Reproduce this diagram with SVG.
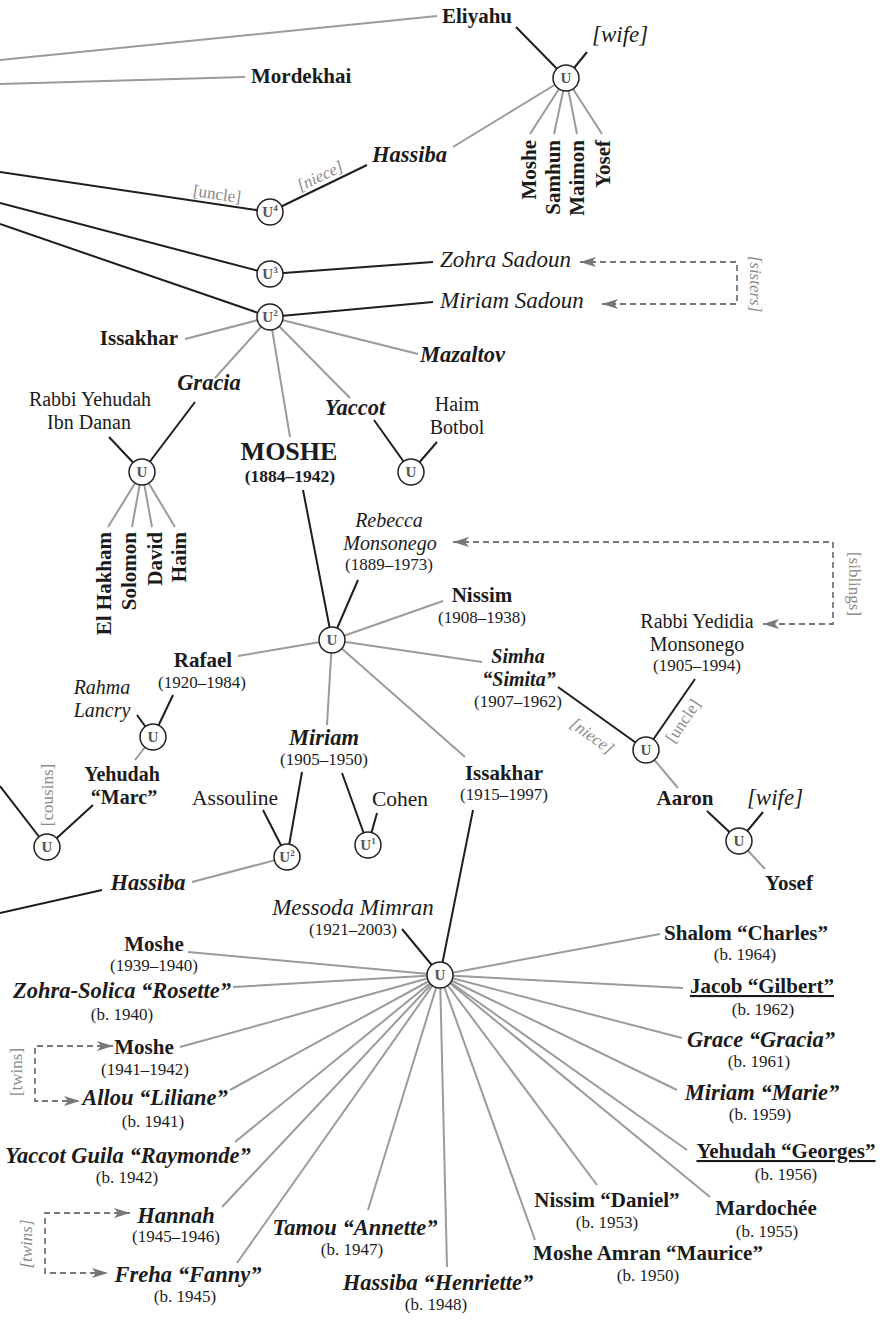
<svg xmlns="http://www.w3.org/2000/svg" width="883" height="1320" viewBox="0 0 883 1320">
<style>
text{font-family:"Liberation Serif","Times New Roman",serif;fill:#1b1b1b}
.n{font-size:21px;font-weight:bold}
.bi{font-size:22.5px;font-weight:bold;font-style:italic}
.r{font-size:21.5px}
.i{font-size:23px;font-style:italic}
.d{font-size:17px;font-weight:normal;font-style:normal}
.c{text-anchor:middle}
.m{font-size:20px}
.lbl{fill:#8a8a8a;font-size:17px}
.k{stroke:#1e1e1e;stroke-width:2;fill:none}
.g{stroke:#9b9b9b;stroke-width:2;fill:none}
.dash{stroke:#777;stroke-width:1.8;stroke-dasharray:6 4;fill:none;marker-start:url(#ah);marker-end:url(#ah)}
.u circle{fill:#fff;stroke:#222;stroke-width:1.5}
.u text{font-size:15px;font-weight:bold;fill:#555;text-anchor:middle}
.ul{text-decoration:underline}
</style>
<defs>
<marker id="ah" viewBox="0 0 16 12" refX="16" refY="6" markerWidth="16" markerHeight="12" markerUnits="userSpaceOnUse" orient="auto-start-reverse"><path d="M0,1 L16,6 L0,11 L4,6 Z" fill="#777"/></marker>
</defs>
<g id="connectors">
<path class="g" d="M0,60 L437,16 M0,84 L245,77 M566,78 L453,147 M566,78 L530,134 M566,78 L554,134 M566,78 L577,134 M566,78 L602,134 M270,317 L185,339 M270,317 L215,378 M270,317 L290,437 M270,317 L350,398 M270,317 L418,354 M142,472 L108,527 M142,472 L132,527 M142,472 L152,527 M142,472 L175,527 M332,640 L238,656 M332,640 L443,601 M332,640 L482,662 M332,640 L327,725 M332,640 L465,757 M153,737 L135,760 M287,857 L192,882 M646,750 L678,788 M739,841 L765,869"/>
<path class="g" d="M440,975 L188,952 M440,975 L233,987 M440,975 L180,1047 M440,975 L230,1090 M440,975 L235,1142 M440,975 L222,1207 M440,975 L237,1263 M440,975 L368,1210 M440,975 L447,1267 M440,975 L535,1240 M440,975 L597,1185 M440,975 L710,1197 M440,975 L687,1150 M440,975 L677,1090 M440,975 L682,1038 M440,975 L683,988 M440,975 L660,934"/>
<path class="k" d="M516,27 L566,78 M587,52 L566,78 M0,172 L270,212 M270,212 L367,165 M0,203 L270,274 M0,224 L270,317 M270,274 L433,262 M270,317 L433,302 M109,437 L142,472 M195,402 L142,472 M374,420 L411,472 M437,442 L411,472 M303,490 L332,640 M358,580 L332,640 M137,715 L153,737 M173,695 L153,737 M0,786 L47,847 M93,805 L47,847 M263,810 L287,857 M302,772 L287,857 M342,773 L368,845 M377,813 L368,845 M0,913 L102,890 M558,687 L646,750 M695,679 L646,750 M707,811 L739,841 M763,812 L739,841 M402,929 L440,975 M473,810 L440,975"/>
<path class="dash" d="M580,262 H737 V304 H602"/>
<path class="dash" d="M453,542 H833 V624 H763"/>
<path class="dash" d="M113,1046 H35 V1101 H80"/>
<path class="dash" d="M130,1213 H45 V1273 H108"/>
<text class="lbl" transform="translate(217,194) rotate(8.3)" text-anchor="middle" dominant-baseline="central">[uncle]</text>
<text class="lbl" transform="translate(320,176) rotate(-25.4)" text-anchor="middle" dominant-baseline="central" font-style="italic">[niece]</text>
<text class="lbl" transform="translate(592,736) rotate(36)" text-anchor="middle" dominant-baseline="central" font-style="italic">[niece]</text>
<text class="lbl" transform="translate(683,721) rotate(-56)" text-anchor="middle" dominant-baseline="central" font-size="18">[uncle]</text>
<text class="lbl" transform="translate(750,284) rotate(90)" text-anchor="middle" font-style="italic" font-size="19">[sisters]</text>
<text class="lbl" transform="translate(849,584) rotate(90)" text-anchor="middle" font-size="21">[siblings]</text>
<text class="lbl" transform="translate(53,795) rotate(-90)" text-anchor="middle" font-size="16.5">[cousins]</text>
<text class="lbl" transform="translate(22,1072) rotate(-90)" text-anchor="middle" font-size="21">[twins]</text>
<text class="lbl" transform="translate(32,1244) rotate(-90)" text-anchor="middle" font-size="20" font-style="italic">[twins]</text>
</g>
<g id="n-eliyahu"><text class="n" x="442" y="23">Eliyahu</text></g>
<g id="n-mordekhai"><text class="n" x="251" y="83" font-size="21.5">Mordekhai</text></g>
<g id="n-wife1"><text class="i" x="592" y="42">[wife]</text></g>
<g id="u-eliyahu" class="u"><circle cx="566" cy="78" r="13"/><text x="566" y="83">U</text></g>
<g id="n-moshe-e"><text class="n" transform="translate(536,140) rotate(-90)" text-anchor="end" font-size="21.5">Moshe</text></g>
<g id="n-samhun"><text class="n" transform="translate(560,140) rotate(-90)" text-anchor="end" font-size="21.5">Samhun</text></g>
<g id="n-maimon"><text class="n" transform="translate(584,140) rotate(-90)" text-anchor="end" font-size="21.5">Maimon</text></g>
<g id="n-yosef-e"><text class="n" transform="translate(610,140) rotate(-90)" text-anchor="end" font-size="21.5">Yosef</text></g>
<g id="n-hassiba-top"><text class="bi" x="372" y="162">Hassiba</text></g>
<g id="u4" class="u"><circle cx="270" cy="212" r="13"/><text x="270" y="217">U<tspan font-size="9" dy="-6">4</tspan></text></g>
<g id="u3" class="u"><circle cx="270" cy="274" r="13"/><text x="270" y="279">U<tspan font-size="9" dy="-6">3</tspan></text></g>
<g id="u2" class="u"><circle cx="270" cy="317" r="13"/><text x="270" y="322">U<tspan font-size="9" dy="-6">2</tspan></text></g>
<g id="n-zohra-sadoun"><text class="i" x="440" y="267">Zohra Sadoun</text></g>
<g id="n-miriam-sadoun"><text class="i" x="440" y="308">Miriam Sadoun</text></g>
<g id="n-issakhar-top"><text class="n" x="178" y="345" text-anchor="end">Issakhar</text></g>
<g id="n-mazaltov"><text class="bi" x="420" y="362">Mazaltov</text></g>
<g id="n-gracia"><text class="bi c" x="209" y="390">Gracia</text></g>
<g id="n-yaccot"><text class="bi c" x="355" y="415">Yaccot</text></g>
<g id="n-rabbi-yehudah"><text class="r c m" x="90" y="406">Rabbi Yehudah<tspan x="89" y="429">Ibn Danan</tspan></text></g>
<g id="n-haim-botbol"><text class="r c m" x="457" y="411">Haim<tspan x="457" y="434">Botbol</tspan></text></g>
<g id="u-gracia" class="u"><circle cx="142" cy="472" r="13"/><text x="142" y="477">U</text></g>
<g id="u-yaccot" class="u"><circle cx="411" cy="472" r="13"/><text x="411" y="477">U</text></g>
<g id="n-elhakham"><text class="n" transform="translate(111,532) rotate(-90)" text-anchor="end" font-size="21.5">El Hakham</text></g>
<g id="n-solomon"><text class="n" transform="translate(136,532) rotate(-90)" text-anchor="end" font-size="21.5">Solomon</text></g>
<g id="n-david"><text class="n" transform="translate(162,532) rotate(-90)" text-anchor="end" font-size="21.5">David</text></g>
<g id="n-haim"><text class="n" transform="translate(186,532) rotate(-90)" text-anchor="end" font-size="21.5">Haim</text></g>
<g id="n-moshe-main"><text class="c" x="289" y="460" font-size="26" font-weight="bold">MOSHE<tspan x="290" y="482" font-size="17.5">(1884–1942)</tspan></text></g>
<g id="n-rebecca"><text class="i c m" x="389" y="527">Rebecca<tspan x="390" y="550">Monsonego</tspan><tspan class="d" x="389" y="570">(1889–1973)</tspan></text></g>
<g id="u-main" class="u"><circle cx="332" cy="640" r="13"/><text x="332" y="645">U</text></g>
<g id="n-nissim"><text class="n c" x="482" y="602">Nissim<tspan class="d" x="482" y="623">(1908–1938)</tspan></text></g>
<g id="n-yedidia"><text class="r c m" x="697" y="628">Rabbi Yedidia<tspan x="697" y="651">Monsonego</tspan><tspan class="d" x="697" y="671">(1905–1994)</tspan></text></g>
<g id="n-rafael"><text class="n c" x="203" y="667">Rafael<tspan class="d" x="202" y="688">(1920–1984)</tspan></text></g>
<g id="n-simha"><text class="bi c m" x="518" y="663">Simha<tspan x="519" y="686">“Simita”</tspan><tspan class="d" x="518" y="707">(1907–1962)</tspan></text></g>
<g id="n-rahma"><text class="i c m" x="102" y="694">Rahma<tspan x="102" y="717">Lancry</tspan></text></g>
<g id="u-rafael" class="u"><circle cx="153" cy="737" r="13"/><text x="153" y="742">U</text></g>
<g id="n-miriam"><text class="bi c" x="324" y="745">Miriam<tspan class="d" x="324" y="765">(1905–1950)</tspan></text></g>
<g id="u-simha" class="u"><circle cx="646" cy="750" r="13"/><text x="646" y="755">U</text></g>
<g id="n-issakhar"><text class="n c" x="504" y="780">Issakhar<tspan class="d" x="504" y="800">(1915–1997)</tspan></text></g>
<g id="n-yehudah-marc"><text class="n c m" x="122" y="781">Yehudah<tspan x="124" y="804">“Marc”</tspan></text></g>
<g id="n-assouline"><text class="r c" x="235" y="805">Assouline</text></g>
<g id="n-cohen"><text class="r c" x="400" y="806">Cohen</text></g>
<g id="n-aaron"><text class="n c" x="685" y="805">Aaron</text></g>
<g id="n-wife2"><text class="i c" x="775" y="805">[wife]</text></g>
<g id="u-cousins" class="u"><circle cx="47" cy="847" r="13"/><text x="47" y="852">U</text></g>
<g id="u2-miriam" class="u"><circle cx="287" cy="857" r="13"/><text x="287" y="862">U<tspan font-size="9" dy="-6">2</tspan></text></g>
<g id="u1-miriam" class="u"><circle cx="368" cy="845" r="13"/><text x="368" y="850">U<tspan font-size="9" dy="-6">1</tspan></text></g>
<g id="u-aaron" class="u"><circle cx="739" cy="841" r="13"/><text x="739" y="846">U</text></g>
<g id="n-hassiba-low"><text class="bi c" x="148" y="890">Hassiba</text></g>
<g id="n-yosef"><text class="n c" x="789" y="890">Yosef</text></g>
<g id="n-messoda"><text class="i c" x="353" y="915">Messoda Mimran<tspan class="d" x="353" y="935">(1921–2003)</tspan></text></g>
<g id="u-messoda" class="u"><circle cx="440" cy="975" r="13"/><text x="440" y="980">U</text></g>
<g id="n-moshe-1939"><text class="n c" x="154" y="951">Moshe<tspan class="d" x="154" y="971">(1939–1940)</tspan></text></g>
<g id="n-rosette"><text class="bi c" x="122" y="998">Zohra-Solica “Rosette”<tspan class="d" x="122" y="1020">(b. 1940)</tspan></text></g>
<g id="n-moshe-1941"><text class="n c" x="144" y="1054">Moshe<tspan class="d" x="145" y="1075">(1941–1942)</tspan></text></g>
<g id="n-allou"><text class="bi c" x="155" y="1105">Allou “Liliane”<tspan class="d" x="153" y="1127">(b. 1941)</tspan></text></g>
<g id="n-raymonde"><text class="bi c" x="128" y="1163">Yaccot Guila “Raymonde”<tspan class="d" x="127" y="1183">(b. 1942)</tspan></text></g>
<g id="n-hannah"><text class="bi c" x="176" y="1223">Hannah<tspan class="d" x="176" y="1242">(1945–1946)</tspan></text></g>
<g id="n-fanny"><text class="bi c" x="188" y="1282">Freha “Fanny”<tspan class="d" x="185" y="1302">(b. 1945)</tspan></text></g>
<g id="n-annette"><text class="bi c" x="355" y="1235">Tamou “Annette”<tspan class="d" x="352" y="1255">(b. 1947)</tspan></text></g>
<g id="n-henriette"><text class="bi c" x="438" y="1290">Hassiba “Henriette”<tspan class="d" x="436" y="1310">(b. 1948)</tspan></text></g>
<g id="n-maurice"><text class="n c" x="648" y="1260">Moshe Amran “Maurice”<tspan class="d" x="648" y="1281">(b. 1950)</tspan></text></g>
<g id="n-daniel"><text class="n c" x="607" y="1207">Nissim “Daniel”<tspan class="d" x="607" y="1228">(b. 1953)</tspan></text></g>
<g id="n-mardochee"><text class="n c" x="766" y="1215">Mardochée<tspan class="d" x="767" y="1237">(b. 1955)</tspan></text></g>
<g id="n-georges"><text class="n c" x="786" y="1158"><tspan class="ul">Yehudah “Georges”</tspan><tspan class="d" x="786" y="1180">(b. 1956)</tspan></text></g>
<g id="n-marie"><text class="bi c" x="762" y="1100">Miriam “Marie”<tspan class="d" x="760" y="1120">(b. 1959)</tspan></text></g>
<g id="n-grace"><text class="bi c" x="761" y="1047">Grace “Gracia”<tspan class="d" x="759" y="1067">(b. 1961)</tspan></text></g>
<g id="n-gilbert"><text class="n c" x="762" y="993"><tspan class="ul">Jacob “Gilbert”</tspan><tspan class="d" x="763" y="1015">(b. 1962)</tspan></text></g>
<g id="n-charles"><text class="n c" x="746" y="940">Shalom “Charles”<tspan class="d" x="745" y="960">(b. 1964)</tspan></text></g>
</svg>
